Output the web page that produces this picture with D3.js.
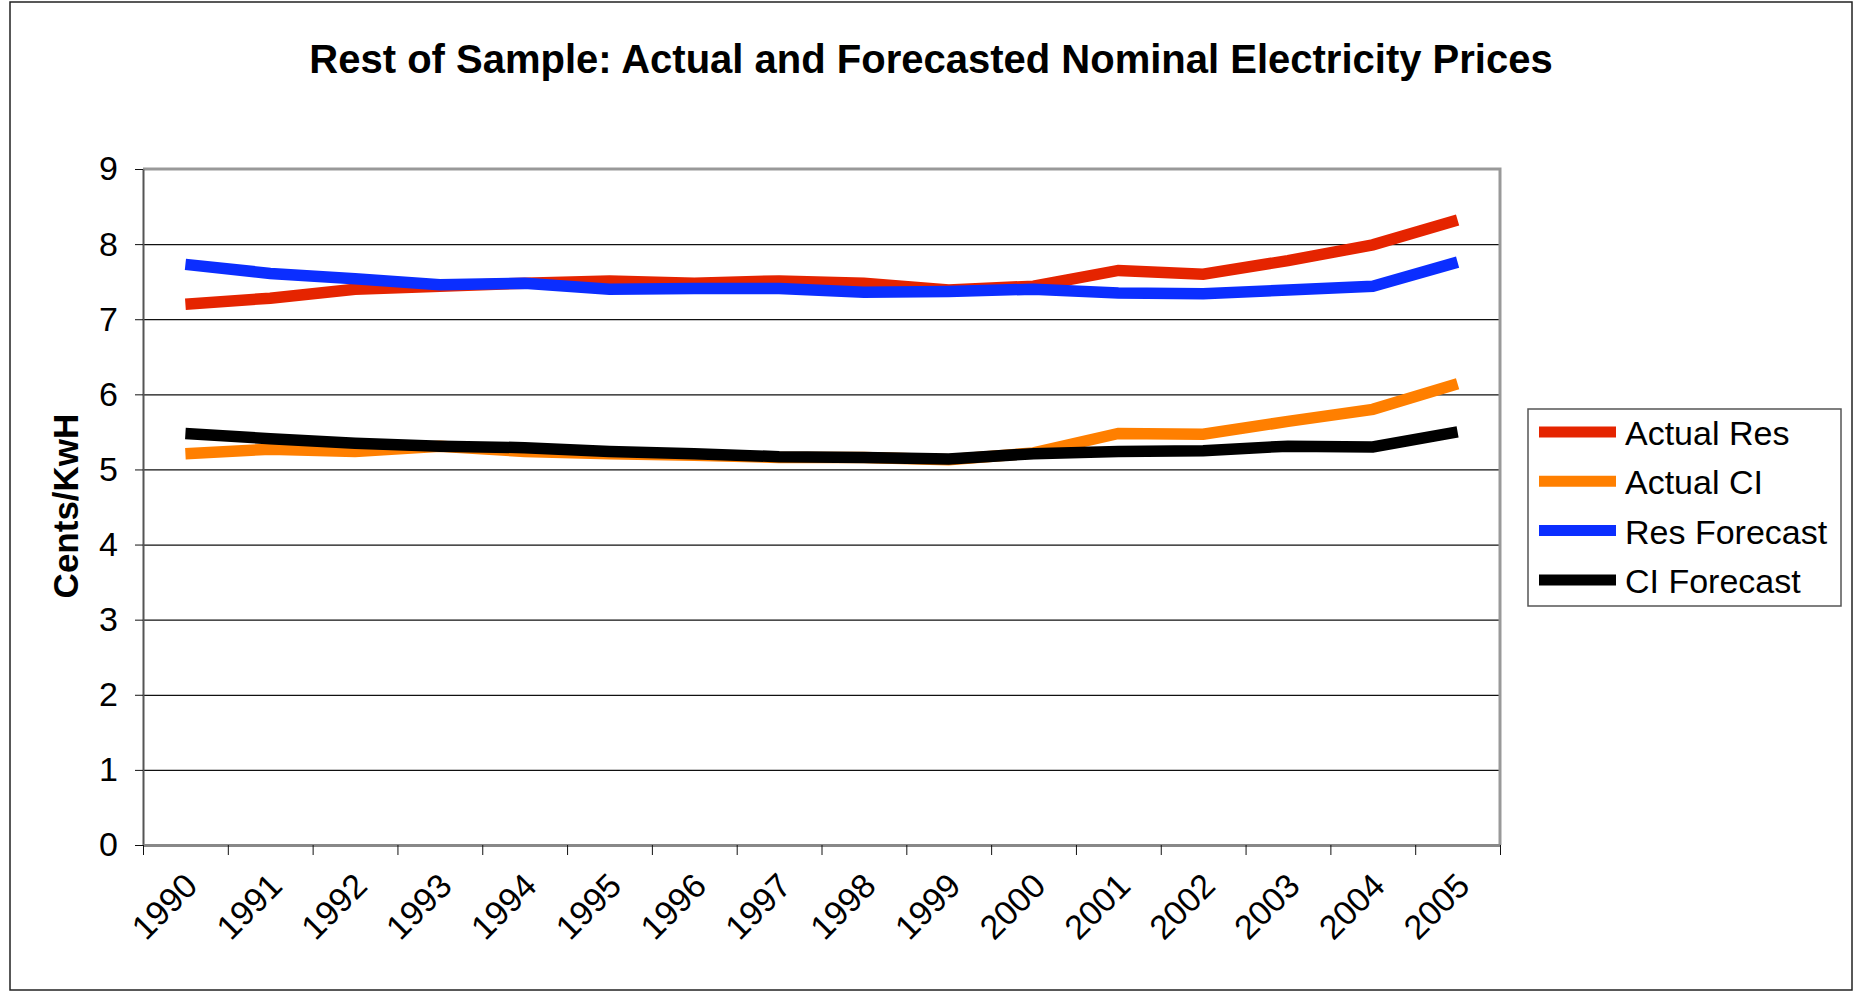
<!DOCTYPE html>
<html>
<head>
<meta charset="utf-8">
<script src="https://cdn.jsdelivr.net/npm/d3@7"></script>
<style>
  body { margin: 0; background: #fff; }
  svg { display: block; font-family: Arial, "Liberation Sans", sans-serif; }
</style>
</head>
<body>
<script>
const width = 1855;
const height = 994;

const years = ["1990","1991","1992","1993","1994","1995","1996","1997",
  "1998","1999","2000","2001","2002","2003","2004","2005"];
const actualRes   = [7.20,7.28,7.40,7.44,7.48,7.51,7.48,7.51,7.48,7.39,7.44,7.65,7.60,7.78,7.99,8.32];
const actualCI    = [5.21,5.27,5.24,5.31,5.24,5.21,5.19,5.16,5.16,5.13,5.22,5.48,5.47,5.64,5.80,6.14];
const resForecast = [7.73,7.61,7.54,7.46,7.48,7.40,7.41,7.41,7.36,7.37,7.40,7.35,7.34,7.39,7.44,7.76];
const ciForecast  = [5.48,5.41,5.35,5.31,5.29,5.24,5.21,5.17,5.16,5.14,5.21,5.24,5.25,5.31,5.30,5.50];
const yTicks = [0,1,2,3,4,5,6,7,8,9];

const seriesNames = ["Actual Res", "Actual CI", "Res Forecast", "CI Forecast"];
const seriesColors = ["#e52400", "#ff7f00", "#0b2eff", "#000000"];
const seriesValues = [actualRes, actualCI, resForecast, ciForecast];

const plot = { left: 143, right: 1500, top: 169, bottom: 845 };

const scale = {
  x: d3.scaleBand().domain(years).range([plot.left, plot.right]),
  edge: d3.scaleLinear().domain([0, years.length]).range([plot.left, plot.right]),
  y: d3.scaleLinear().domain([0, 9]).range([plot.bottom, plot.top])
};

const svg = d3.select("body").append("svg")
  .attr("width", width)
  .attr("height", height);

// outer chart frame
svg.append("rect")
  .attr("x", 10).attr("y", 2)
  .attr("width", 1842).attr("height", 988)
  .attr("fill", "none")
  .attr("stroke", "#222")
  .attr("stroke-width", 1.5);

// title
svg.append("text")
  .attr("x", 931).attr("y", 73)
  .attr("text-anchor", "middle")
  .style("font-size", "40px")
  .style("font-weight", "bold")
  .text("Rest of Sample: Actual and Forecasted Nominal Electricity Prices");

// grid lines
svg.append("g")
  .attr("transform", `translate(${plot.left},0)`)
  .call(d3.axisLeft(scale.y)
    .tickValues(yTicks.slice(1, -1))
    .tickSize(-(plot.right - plot.left))
    .tickFormat(""))
  .call(g => g.select(".domain").remove())
  .call(g => g.selectAll("line").attr("stroke", "#111").attr("stroke-width", 1.2));

// plot border (top and right)
svg.append("path")
  .attr("d", `M${plot.left},${plot.top}H${plot.right}V${plot.bottom}`)
  .attr("fill", "none")
  .attr("stroke", "#999")
  .attr("stroke-width", 3);

// y axis
svg.append("g")
  .attr("transform", `translate(${plot.left},0)`)
  .call(d3.axisLeft(scale.y).tickValues(yTicks).tickSize(8).tickPadding(17).tickSizeOuter(0))
  .call(g => g.select(".domain").attr("stroke", "#555").attr("stroke-width", 2))
  .call(g => g.selectAll("line").attr("stroke", "#111"))
  .call(g => g.selectAll("text")
    .style("font-size", "34px")
    .style("font-family", "Arial, 'Liberation Sans', sans-serif")
    .attr("fill", "#000"));

// x axis tick marks at category edges
svg.append("g")
  .attr("transform", `translate(0,${plot.bottom})`)
  .call(d3.axisBottom(scale.edge)
    .tickValues(d3.range(years.length + 1))
    .tickSize(10).tickSizeOuter(0).tickFormat(""))
  .call(g => g.select(".domain").attr("stroke", "#888").attr("stroke-width", 3))
  .call(g => g.selectAll("line").attr("stroke", "#111"));

// rotated x labels
svg.append("g").selectAll("text")
  .data(years)
  .enter()
  .append("text")
  .attr("text-anchor", "end")
  .attr("transform", d => `translate(${scale.x(d) + scale.x.bandwidth() / 2 + 14},888)rotate(-45)`)
  .style("font-size", "34px")
  .text(d => d);

// y label
svg.append("text")
  .attr("text-anchor", "middle")
  .attr("transform", "translate(78,506)rotate(-90)")
  .style("font-size", "35px")
  .style("font-weight", "bold")
  .text("Cents/KwH");

// series lines
const line = d3.line()
  .x((d, i) => scale.x(years[i]) + scale.x.bandwidth() / 2)
  .y(d => scale.y(d));

seriesValues.forEach((vals, k) => {
  svg.append("path")
    .datum(vals)
    .attr("d", line)
    .attr("fill", "none")
    .attr("stroke", seriesColors[k])
    .attr("stroke-width", 11.5)
    .attr("stroke-linejoin", "miter")
    .attr("stroke-linecap", "butt");
});

// legend
const legend = svg.append("g");
legend.append("rect")
  .attr("x", 1528).attr("y", 409)
  .attr("width", 313).attr("height", 197)
  .attr("fill", "#fff")
  .attr("stroke", "#555")
  .attr("stroke-width", 1.5);

const items = legend.selectAll("g.item")
  .data(seriesNames)
  .enter()
  .append("g")
  .attr("class", "item")
  .attr("transform", (d, i) => `translate(1539,${432 + i * 49.3})`);

items.append("line")
  .attr("x1", 0).attr("x2", 77)
  .attr("stroke", (d, i) => seriesColors[i])
  .attr("stroke-width", 11);

items.append("text")
  .attr("x", 86).attr("y", 13)
  .style("font-size", "34px")
  .text(d => d);
</script>
</body>
</html>
